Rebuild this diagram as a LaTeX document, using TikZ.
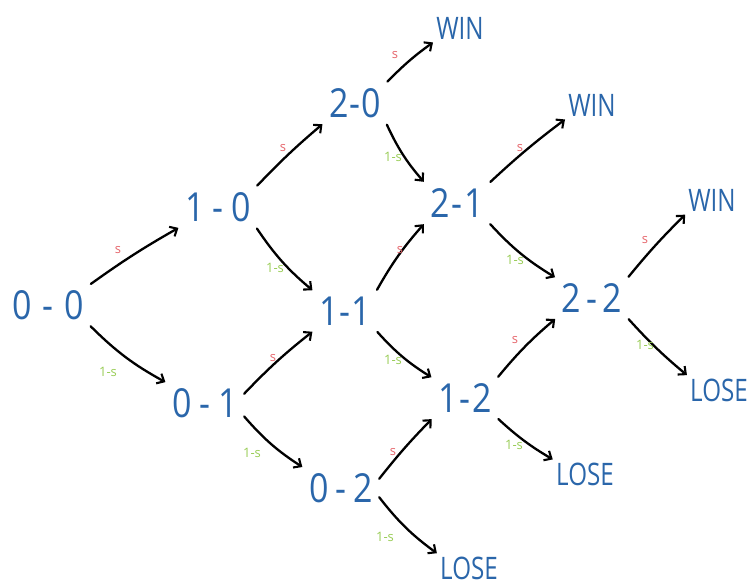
\documentclass[tikz,border=0pt]{standalone}
\usepackage{fontspec}
\setmainfont{Open Sans}
\usetikzlibrary{arrows.meta}
\definecolor{score}{HTML}{2A66AA}
\definecolor{pwin}{HTML}{E5646A}
\definecolor{plose}{HTML}{98CC55}
\newcommand{\dsh}[1]{\kern#1pt-\kern#1pt}
\tikzset{
  state/.style={text=score, font=\fontsize{40}{40}\selectfont, inner xsep=6pt, inner ysep=5pt,
    xscale=0.85, transform shape},
  result/.style={text=score, font=\fontsize{31}{31}\selectfont, inner sep=2pt,
    xscale=0.78, transform shape},
  arr/.style={draw=black, line width=2.3pt, line cap=round,
    -{Straight Barb[length=6pt,width=11pt,line width=2.1pt]}, shorten <=2pt, shorten >=2pt},
  ps/.style={text=pwin, font=\fontsize{13}{13}\selectfont},
  pq/.style={text=plose, font=\fontsize{13}{13}\selectfont},
}
\begin{document}
\begin{tikzpicture}[x=1pt,y=1pt]
\useasboundingbox (0,0) rectangle (748,-588);
% score states
\node[state] (n00) at (48,-305) {0\dsh{13}0};
\node[state] (n10) at (218,-207) {1\dsh{9}0};
\node[state] (n01) at (205,-403) {0\dsh{9}1};
\node[state] (n20) at (355,-103) {2\dsh{1}0};
\node[state] (n11) at (345,-311) {1\dsh{1}1};
\node[state] (n02) at (341,-488) {0\dsh{8}2};
\node[state] (n21) at (457,-203) {2\dsh{2}1};
\node[state] (n12) at (465,-398) {1\dsh{2}2};
\node[state] (n22) at (592,-298) {2\dsh{6}2};
% outcomes
\node[result] (w1) at (460,-28) {WIN};
\node[result] (w2) at (592,-105) {WIN};
\node[result] (w3) at (712,-200) {WIN};
\node[result] (l1) at (719,-390) {LOSE};
\node[result] (l2) at (585,-474) {LOSE};
\node[result] (l3) at (469,-568) {LOSE};
% winning a point
\draw[arr] (n00.north east) to[bend left=3] (n10.south west);
\draw[arr] (n10.north east) to[bend left=3] (n20.south west);
\draw[arr] (n01.10) to[bend left=4] (n11.south west);
\draw[arr] (n20.north east) to[bend left=5] (w1.south west);
\draw[arr] (n11.north east) to[bend left=6] (n21.south west);
\draw[arr] (n02.10) to[bend left=3] (n12.south west);
\draw[arr] (n21.north east) to[bend left=3] (w2.south west);
\draw[arr] (n12.north east) to[bend left=5] (n22.south west);
\draw[arr] (n22.north east) to[bend left=3] (w3.south west);
% losing a point
\draw[arr] (n00.south east) to[bend right=8] (n01.north west);
\draw[arr] (n10.south east) to[bend right=8] (n11.north west);
\draw[arr] (n01.-15) to[bend right=8] (n02.north west);
\draw[arr] (n20.south east) to[bend right=8] (n21.north west);
\draw[arr] (n11.south east) to[bend right=8] (n12.north west);
\draw[arr] (n02.-10) to[bend right=8] (l3.north west);
\draw[arr] (n21.south east) to[bend right=8] (n22.north west);
\draw[arr] (n12.south east) to[bend right=6] (l2.north west);
\draw[arr] (n22.south east) to[bend right=4] (l1.north west);
% probabilities
\node[ps] (s1) at (118,-250) {s};
\node[ps] (s2) at (283,-148) {s};
\node[ps] (s3) at (273,-358) {s};
\node[ps] (s4) at (395,-55) {s};
\node[ps] (s5) at (400,-250) {s};
\node[ps] (s6) at (520,-148) {s};
\node[ps] (s7) at (393,-452) {s};
\node[ps] (s8) at (515,-340) {s};
\node[ps] (s9) at (645,-240) {s};
\node[pq] (q1) at (108,-372) {1-s};
\node[pq] (q2) at (275,-268) {1-s};
\node[pq] (q3) at (252,-453) {1-s};
\node[pq] (q4) at (393,-157) {1-s};
\node[pq] (q5) at (393,-360) {1-s};
\node[pq] (q6) at (515,-260) {1-s};
\node[pq] (q7) at (385,-537) {1-s};
\node[pq] (q8) at (514,-445) {1-s};
\node[pq] (q9) at (645,-345) {1-s};
\end{tikzpicture}
\end{document}
